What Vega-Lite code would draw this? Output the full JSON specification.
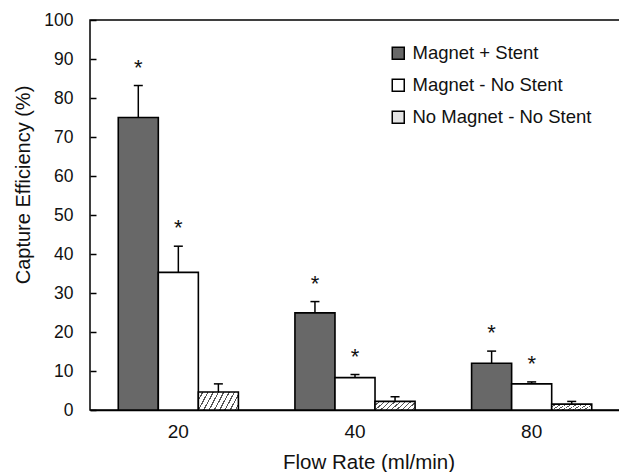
{
  "$schema": "https://vega.github.io/schema/vega-lite/v6.json",
  "width": 530,
  "height": 390,
  "autosize": "none",
  "padding": {"left": 90, "top": 20, "right": 0, "bottom": 62},
  "background": "#ffffff",
  "config": {
    "font": "Liberation Sans",
    "view": {"stroke": "#000000", "strokeWidth": 1.5},
    "axis": {"labelColor": "#111111", "titleColor": "#111111", "domainColor": "#000000", "domainWidth": 1.5, "tickColor": "#000000", "tickWidth": 1.5, "grid": false, "labelFont": "Liberation Sans", "titleFont": "Liberation Sans", "titleFontWeight": "normal"},
    "axisY": {"labelOverlap": false, "values": [0, 5, 10, 15, 20, 25, 30, 35, 40, 45, 50, 55, 60, 65, 70, 75, 80, 85, 90, 95, 100], "labelExpr": "datum.value % 10 === 0 ? datum.label : ''", "ticks": true, "tickOpacity": 1, "zindex": 1, "domain": false, "offset": -6, "tickSize": 6, "labelPadding": 17, "labelFontSize": 17.5, "titleFontSize": 20, "titleX": -67, "titleY": 164.5, "titleBaseline": "alphabetic", "titleAlign": "center", "titleAngle": -90},
    "legend": {"labelFont": "Liberation Sans"}
  },
  "data": {
    "values": [
      {"flow": "20", "series": "Magnet + Stent", "value": 75.0, "errTop": 83.2, "sig": "*"},
      {"flow": "20", "series": "Magnet - No Stent", "value": 35.3, "errTop": 42.0, "sig": "*"},
      {"flow": "20", "series": "No Magnet - No Stent", "value": 4.6, "errTop": 6.7, "sig": ""},
      {"flow": "40", "series": "Magnet + Stent", "value": 24.9, "errTop": 27.8, "sig": "*"},
      {"flow": "40", "series": "Magnet - No Stent", "value": 8.3, "errTop": 9.1, "sig": "*"},
      {"flow": "40", "series": "No Magnet - No Stent", "value": 2.2, "errTop": 3.4, "sig": ""},
      {"flow": "80", "series": "Magnet + Stent", "value": 12.0, "errTop": 15.1, "sig": "*"},
      {"flow": "80", "series": "Magnet - No Stent", "value": 6.7, "errTop": 7.2, "sig": "*"},
      {"flow": "80", "series": "No Magnet - No Stent", "value": 1.5, "errTop": 2.2, "sig": ""}
    ]
  },
  "encoding": {
    "x": {
      "field": "flow", "type": "ordinal", "sort": ["20", "40", "80"],
      "scale": {"paddingInner": 0.32, "paddingOuter": 0.16},
      "axis": {"ticks": false, "labelAngle": 0, "labelFontSize": 19, "labelPadding": 12, "title": "Flow Rate (ml/min)", "titleFontSize": 20.5, "titleX": 278.5, "titleY": 58, "titleBaseline": "alphabetic", "titleAlign": "center"}
    },
    "xOffset": {"field": "series", "type": "nominal", "sort": ["Magnet + Stent", "Magnet - No Stent", "No Magnet - No Stent"], "scale": {"paddingInner": 0, "paddingOuter": 0}},
    "y": {
      "field": "value", "type": "quantitative",
      "scale": {"domain": [0, 100], "nice": false},
      "axis": {"title": "Capture Efficiency (%)", "ticks": true, "tickSize": 6}
    }
  },
  "layer": [
    {
      "mark": {"type": "bar", "stroke": "#000000", "strokeWidth": 1.6},
      "encoding": {
        "fill": {
          "condition": {"test": "datum.series === 'No Magnet - No Stent'", "value": {"gradient": "linear", "x1": 0, "y1": 0, "x2": 1.25, "y2": 0.3, "stops": [
              {"offset": 0, "color": "#ffffff"},
              {"offset": 0.07, "color": "#ffffff"}, {"offset": 0.07, "color": "#555555"}, {"offset": 0.095, "color": "#555555"}, {"offset": 0.095, "color": "#ffffff"},
              {"offset": 0.17, "color": "#ffffff"}, {"offset": 0.17, "color": "#555555"}, {"offset": 0.195, "color": "#555555"}, {"offset": 0.195, "color": "#ffffff"},
              {"offset": 0.27, "color": "#ffffff"}, {"offset": 0.27, "color": "#555555"}, {"offset": 0.295, "color": "#555555"}, {"offset": 0.295, "color": "#ffffff"},
              {"offset": 0.37, "color": "#ffffff"}, {"offset": 0.37, "color": "#555555"}, {"offset": 0.395, "color": "#555555"}, {"offset": 0.395, "color": "#ffffff"},
              {"offset": 0.47, "color": "#ffffff"}, {"offset": 0.47, "color": "#555555"}, {"offset": 0.495, "color": "#555555"}, {"offset": 0.495, "color": "#ffffff"},
              {"offset": 0.57, "color": "#ffffff"}, {"offset": 0.57, "color": "#555555"}, {"offset": 0.595, "color": "#555555"}, {"offset": 0.595, "color": "#ffffff"},
              {"offset": 0.67, "color": "#ffffff"}, {"offset": 0.67, "color": "#555555"}, {"offset": 0.695, "color": "#555555"}, {"offset": 0.695, "color": "#ffffff"},
              {"offset": 0.77, "color": "#ffffff"}, {"offset": 0.77, "color": "#555555"}, {"offset": 0.795, "color": "#555555"}, {"offset": 0.795, "color": "#ffffff"},
              {"offset": 0.87, "color": "#ffffff"}, {"offset": 0.87, "color": "#555555"}, {"offset": 0.895, "color": "#555555"}, {"offset": 0.895, "color": "#ffffff"},
              {"offset": 0.97, "color": "#ffffff"}, {"offset": 0.97, "color": "#555555"}, {"offset": 0.995, "color": "#555555"}, {"offset": 0.995, "color": "#ffffff"},
              {"offset": 1, "color": "#ffffff"}
            ]}},
          "field": "series", "type": "nominal",
          "scale": {
            "domain": ["Magnet + Stent", "Magnet - No Stent", "No Magnet - No Stent"],
            "range": ["#686868", "#ffffff", "#e4e4e4"]
          },
          "legend": {"orient": "none", "legendX": 299, "legendY": 24, "title": null, "symbolType": "square", "symbolSize": 144, "symbolStrokeColor": "#000000", "symbolStrokeWidth": 1.5, "labelFontSize": 18.5, "labelColor": "#111111", "labelLimit": 400, "rowPadding": 13, "labelOffset": 5, "padding": 0,
            "encoding": {"symbols": {
              "fill": {"condition": [
                {"test": "datum.value === 'Magnet + Stent'", "value": "#686868"},
                {"test": "datum.value === 'No Magnet - No Stent'", "value": {"gradient": "linear", "x1": 0, "y1": 1, "x2": 1, "y2": 0, "stops": [
                  {"offset": 0, "color": "#ffffff"}, {"offset": 0.44, "color": "#ffffff"}, {"offset": 0.44, "color": "#555555"}, {"offset": 0.56, "color": "#555555"}, {"offset": 0.56, "color": "#ffffff"}, {"offset": 1, "color": "#ffffff"}
                ]}}
              ], "value": "#ffffff"},
              "stroke": {"value": "#000000"},
              "strokeWidth": {"value": 1.5}
            }}
          }
        }
      }
    },
    {
      "mark": {"type": "rule", "color": "#000000", "strokeWidth": 1.5},
      "encoding": {
        "y2": {"field": "errTop"}
      }
    },
    {
      "mark": {"type": "tick", "orient": "horizontal", "size": 9, "thickness": 1.5, "color": "#000000", "opacity": 1},
      "encoding": {
        "y": {"field": "errTop", "type": "quantitative", "axis": {"title": "Capture Efficiency (%)", "ticks": true, "tickSize": 6}}
      }
    },
    {
      "mark": {"type": "text", "fontSize": 22, "baseline": "alphabetic", "dy": -11, "color": "#111111"},
      "encoding": {
        "y": {"field": "errTop", "type": "quantitative", "axis": {"title": "Capture Efficiency (%)", "ticks": true, "tickSize": 6}},
        "text": {"field": "sig"}
      }
    }
  ]
}
